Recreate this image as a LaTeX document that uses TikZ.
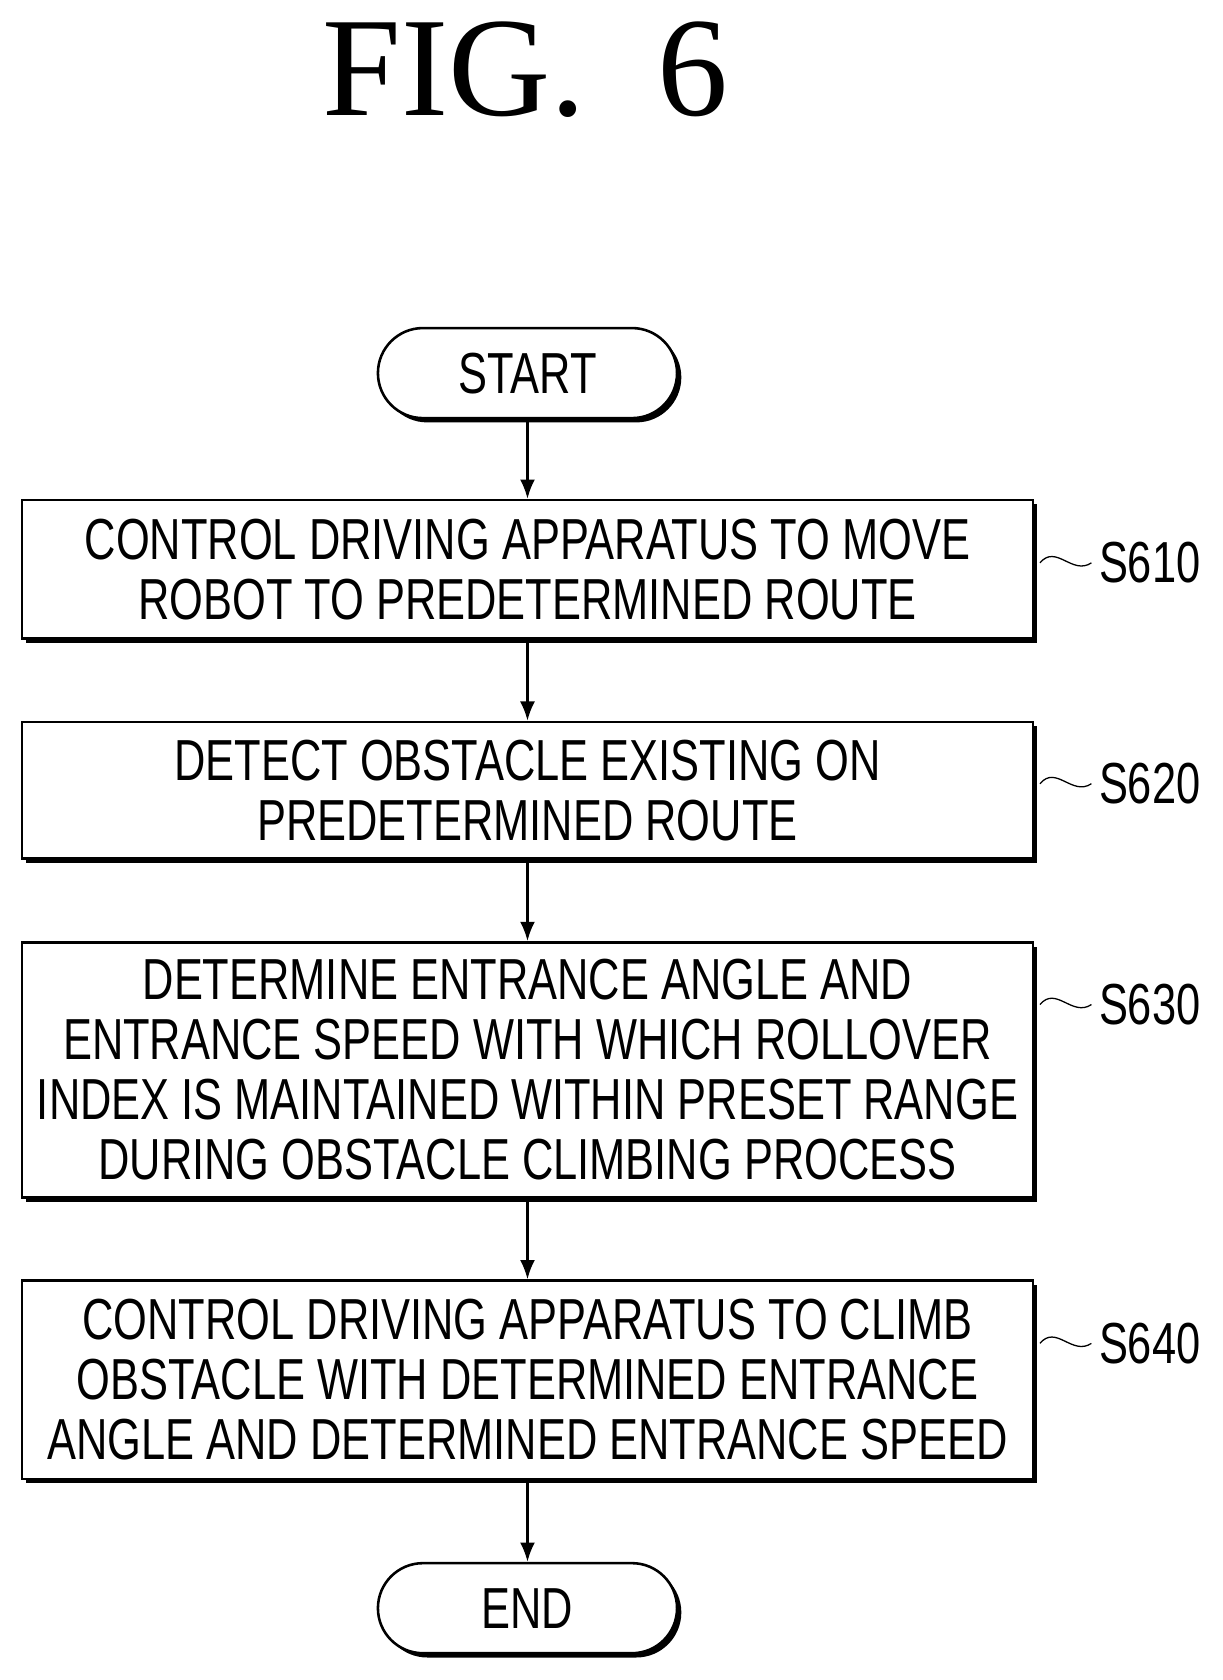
\documentclass[tikz,border=0pt]{standalone}
\usepackage{fontspec}
\setmainfont{Liberation Serif}
\setsansfont[FakeStretch=0.75]{Liberation Sans}
\usetikzlibrary{shapes, calc, positioning, shadows, arrows.meta}

\tikzset{
  flowbox/.style={draw, line width=1.2pt, fill=white, minimum width=471.5pt, align=center,
    inner sep=2pt, font=\sffamily\fontsize{27}{28}\selectfont,
    drop shadow={shadow xshift=2pt, shadow yshift=-2pt, opacity=1, fill=black}},
  term/.style={flowbox, rounded corners=21pt, minimum width=139.5pt, minimum height=42pt},
  tag/.style={font=\sffamily\fontsize{27}{28}\selectfont, anchor=west},
  link/.style={line width=1.2pt, -{Latex[length=9pt, width=7pt]}}
}

\begin{document}
\begin{tikzpicture}[x=0.5pt, y=-0.5pt]
  \useasboundingbox (0,0) rectangle (1140,1567);
  \node[font=\fontsize{66}{66}\selectfont] (title) at (490,65) {FIG.\ \ 6};

  \node[term] (start) at (492,348) {START};
  \node[flowbox, minimum height=64.5pt] (s610) at (492,531) {CONTROL DRIVING APPARATUS TO MOVE\\ROBOT TO PREDETERMINED ROUTE};
  \node[flowbox, minimum height=63.5pt] (s620) at (492,737) {DETECT OBSTACLE EXISTING ON\\PREDETERMINED ROUTE};
  \node[flowbox, minimum height=119pt] (s630) at (492,998) {DETERMINE ENTRANCE ANGLE AND\\ENTRANCE SPEED WITH WHICH ROLLOVER\\INDEX IS MAINTAINED WITHIN PRESET RANGE\\DURING OBSTACLE CLIMBING PROCESS};
  \node[flowbox, minimum height=92.5pt] (s640) at (492,1287) {CONTROL DRIVING APPARATUS TO CLIMB\\OBSTACLE WITH DETERMINED ENTRANCE\\ANGLE AND DETERMINED ENTRANCE SPEED};
  \node[term] (end) at (492,1500) {END};

  % connectors
  \draw[link] (start) -- (s610);
  \draw[link] (s610) -- (s620);
  \draw[link] (s620) -- (s630);
  \draw[link] (s630) -- (s640);
  \draw[link] (s640) -- (end);

  % step labels
  \foreach \s/\y in {610/525, 620/731, 630/937, 640/1253} {
    \node[tag] (lab\s) at (1018,\y) {S\s};
    \coordinate (tail\s) at (970,\y);
    \draw[semithick] (tail\s) .. controls ($(tail\s)+(15,-18)$) and ($(tail\s)+(30,12)$) .. (lab\s.west);
  }
\end{tikzpicture}
\end{document}
